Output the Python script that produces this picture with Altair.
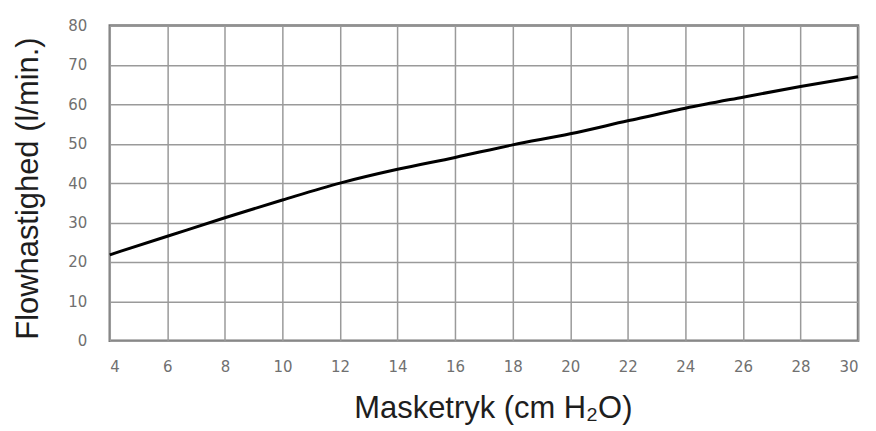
import altair as alt
import pandas as pd

pressure = [4, 6, 8, 10, 12, 14, 16, 18, 20, 22, 24, 26, 28, 30]
flow = [21.8, 26.5, 31.2, 35.7, 40.0, 43.5, 46.5, 49.7, 52.5, 55.8, 59.0, 61.8, 64.5, 67.0]
x_ticks = list(range(4, 31, 2))
y_ticks = list(range(0, 81, 10))

df = pd.DataFrame({"p": pressure, "f": flow})

chart = alt.Chart(df).mark_line(color="black", strokeWidth=3, interpolate="monotone").encode(
    x=alt.X("p:Q", scale=alt.Scale(domain=[4, 30], nice=False, zero=False),
            axis=alt.Axis(values=x_ticks, title="Masketryk (cm H₂O)", ticks=False, domain=False,
                          labelPadding=19, titlePadding=19, titleX=384, titleFontWeight="normal")),
    y=alt.Y("f:Q", scale=alt.Scale(domain=[0, 80], nice=False),
            axis=alt.Axis(values=y_ticks, title="Flowhastighed (l/min.)", ticks=False, domain=False,
                          labelPadding=23, titlePadding=23, titleY=163, titleFontWeight="normal")),
).properties(
    width=750, height=316,
    autosize=alt.AutoSizeParams(type="none"),
    padding={"left": 102, "top": 17, "right": 10, "bottom": 90},
).configure_axis(
    grid=True, gridColor="#9a9a9a", gridWidth=1.5, gridOpacity=1,
    labelFont="DejaVu Sans", labelFontSize=15, labelColor="#707070",
    titleFont="Liberation Sans", titleFontSize=31, titleColor="#1e1e1e",
).configure_view(stroke="#777777", strokeWidth=2.5)

chart.save("out.html", embed_options={"renderer": "svg", "actions": False})
